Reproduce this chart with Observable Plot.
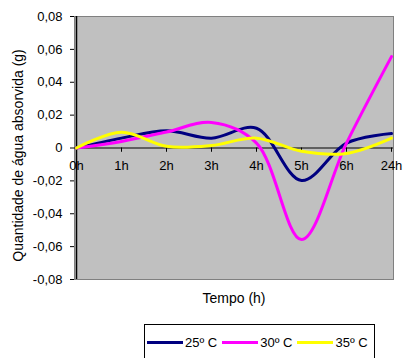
<!DOCTYPE html>
<html>
<head>
<meta charset="utf-8">
<script src="https://cdn.jsdelivr.net/npm/d3@7"></script>
<script src="https://cdn.jsdelivr.net/npm/@observablehq/plot@0.6"></script>
<style>
  body { margin: 0; background: #fff; font-family: "Liberation Sans", Arial, sans-serif; }
  #wrap { position: relative; width: 404px; height: 358px; overflow: hidden; }
  #legend { position: absolute; left: 144px; top: 324px; width: 231px; height: 36px;
            border: 1px solid #000; display: flex; align-items: center; padding-left: 2px;
            box-sizing: border-box; font-size: 13px; color: #000; }
  .item { display: flex; align-items: center; margin-right: 5px; }
  .sw { width: 36px; height: 3px; margin-right: 2px; }
</style>
</head>
<body>
<div id="wrap"></div>
<script>
const categories = ["0h", "1h", "2h", "3h", "4h", "5h", "6h", "24h"];
const seriesNames = ["25º C", "30º C", "35º C"];
const seriesColors = ["#000080", "#FF00FF", "#FFFF00"];
const s25 = [0, 0.006, 0.0105, 0.006, 0.012, -0.0198, 0.003, 0.0088];
const s30 = [0, 0.004, 0.0097, 0.0155, 0.003, -0.0557, 0.003, 0.0556];
const s35 = [0, 0.0096, 0.001, 0.0015, 0.006, -0.002, -0.0033, 0.006];
const yTicks = [-0.08, -0.06, -0.04, -0.02, 0, 0.02, 0.04, 0.06, 0.08];
const yTitle = "Quantidade de água absorvida (g)";
const xTitle = "Tempo (h)";

const seriesValues = [s25, s30, s35];
const data = seriesNames.flatMap((s, j) =>
  categories.map((c, i) => ({cat: c, value: seriesValues[j][i], series: s})));

const fmt = d => d === 0 ? "0" : d.toFixed(2).replace(".", ",");

const chart = Plot.plot({
  width: 404,
  height: 322,
  marginLeft: 74,
  marginRight: 11,
  marginTop: 16,
  marginBottom: 43,
  style: {fontFamily: "'Liberation Sans', Arial, sans-serif", fontSize: "13px", background: "#fff", color: "#000"},
  x: {type: "point", domain: categories, padding: 0, axis: null},
  y: {domain: [-0.08, 0.08], axis: null},
  color: {domain: seriesNames, range: seriesColors},
  marks: [
    Plot.frame({fill: "#C0C0C0", stroke: "#808080"}),
    Plot.ruleY([0], {stroke: "#000", strokeWidth: 1}),
    Plot.ruleX(categories, {x: d => d, y1: 0, y2: -0.0026, stroke: "#000"}),
    Plot.ruleX([categories[0]], {stroke: "#000", strokeWidth: 1.5}),
    Plot.axisY({ticks: yTicks, tickFormat: fmt, tickSize: 4, tickPadding: 8, label: null, fontSize: 13}),
    Plot.text(categories, {x: d => d, y: 0, dy: 18, text: d => d, fontSize: 13, fill: "#000"}),
    Plot.lineY(data, {x: "cat", y: "value", z: "series", stroke: "series", strokeWidth: 3, curve: "catmull-rom"}),
    Plot.text([yTitle], {frameAnchor: "left", textAnchor: "middle", rotate: -90, dx: -56, dy: 7.5, fontSize: 14, fill: "#000"}),
    Plot.text([xTitle], {frameAnchor: "bottom", dy: 23, fontSize: 14, fill: "#000"})
  ]
});
const wrap = document.getElementById("wrap");
wrap.appendChild(chart);

const legend = document.createElement("div");
legend.id = "legend";
seriesNames.forEach((s, j) => {
  const item = document.createElement("div");
  item.className = "item";
  const sw = document.createElement("div");
  sw.className = "sw";
  sw.style.background = seriesColors[j];
  const lab = document.createElement("span");
  lab.textContent = s;
  item.appendChild(sw);
  item.appendChild(lab);
  legend.appendChild(item);
});
wrap.appendChild(legend);
</script>
</body>
</html>
